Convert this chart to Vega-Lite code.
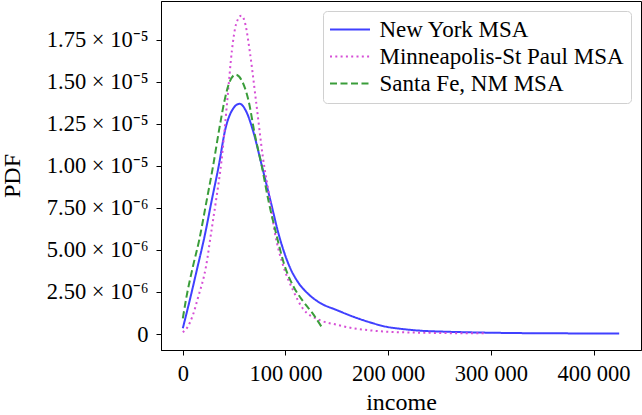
{
  "$schema": "https://vega.github.io/schema/vega-lite/v6.json",
  "width": 480,
  "height": 349,
  "autosize": {"type": "none"},
  "padding": {"left": 161, "top": 1, "right": 1, "bottom": 65},
  "background": "white",
  "config": {
    "view": {"stroke": "#000000", "strokeWidth": 1},
    "font": "Liberation Serif",
    "axis": {
      "grid": false,
      "domainColor": "#000000",
      "tickColor": "#000000",
      "tickSize": 5,
      "labelFont": "Liberation Serif",
      "labelFontSize": 22.5,
      "labelColor": "#000000",
      "titleFont": "Liberation Serif",
      "titleFontSize": 24,
      "titleFontWeight": "normal",
      "titleColor": "#000000"
    }
  },
  "data": {
    "values": [
      {"msa": "New York MSA", "income": 0, "pdf": 0.34e-6},
      {"msa": "New York MSA", "income": 7500, "pdf": 2.2e-6},
      {"msa": "New York MSA", "income": 14000, "pdf": 3.9e-6},
      {"msa": "New York MSA", "income": 21500, "pdf": 5.9e-6},
      {"msa": "New York MSA", "income": 28000, "pdf": 7.9e-6},
      {"msa": "New York MSA", "income": 35000, "pdf": 10.0e-6},
      {"msa": "New York MSA", "income": 41500, "pdf": 12.2e-6},
      {"msa": "New York MSA", "income": 47500, "pdf": 13.25e-6},
      {"msa": "New York MSA", "income": 55300, "pdf": 13.69e-6},
      {"msa": "New York MSA", "income": 62000, "pdf": 13.2e-6},
      {"msa": "New York MSA", "income": 68300, "pdf": 12.1e-6},
      {"msa": "New York MSA", "income": 77000, "pdf": 10.0e-6},
      {"msa": "New York MSA", "income": 85500, "pdf": 7.9e-6},
      {"msa": "New York MSA", "income": 93500, "pdf": 5.9e-6},
      {"msa": "New York MSA", "income": 104000, "pdf": 4.0e-6},
      {"msa": "New York MSA", "income": 112000, "pdf": 3.1e-6},
      {"msa": "New York MSA", "income": 121700, "pdf": 2.41e-6},
      {"msa": "New York MSA", "income": 133400, "pdf": 1.86e-6},
      {"msa": "New York MSA", "income": 150000, "pdf": 1.42e-6},
      {"msa": "New York MSA", "income": 166000, "pdf": 1.03e-6},
      {"msa": "New York MSA", "income": 182000, "pdf": 0.7e-6},
      {"msa": "New York MSA", "income": 198400, "pdf": 0.43e-6},
      {"msa": "New York MSA", "income": 215000, "pdf": 0.29e-6},
      {"msa": "New York MSA", "income": 231000, "pdf": 0.2e-6},
      {"msa": "New York MSA", "income": 255000, "pdf": 0.14e-6},
      {"msa": "New York MSA", "income": 280000, "pdf": 0.1e-6},
      {"msa": "New York MSA", "income": 320000, "pdf": 0.06e-6},
      {"msa": "New York MSA", "income": 370000, "pdf": 0.04e-6},
      {"msa": "New York MSA", "income": 425000, "pdf": 0.03e-6},
      {"msa": "Minneapolis-St Paul MSA", "income": 0, "pdf": 0.1e-6},
      {"msa": "Minneapolis-St Paul MSA", "income": 5000, "pdf": 0.45e-6},
      {"msa": "Minneapolis-St Paul MSA", "income": 9800, "pdf": 1.13e-6},
      {"msa": "Minneapolis-St Paul MSA", "income": 14600, "pdf": 2.12e-6},
      {"msa": "Minneapolis-St Paul MSA", "income": 22800, "pdf": 4.09e-6},
      {"msa": "Minneapolis-St Paul MSA", "income": 27700, "pdf": 6.07e-6},
      {"msa": "Minneapolis-St Paul MSA", "income": 32600, "pdf": 8.05e-6},
      {"msa": "Minneapolis-St Paul MSA", "income": 37500, "pdf": 10.2e-6},
      {"msa": "Minneapolis-St Paul MSA", "income": 43300, "pdf": 13.88e-6},
      {"msa": "Minneapolis-St Paul MSA", "income": 47800, "pdf": 16.85e-6},
      {"msa": "Minneapolis-St Paul MSA", "income": 52000, "pdf": 18.45e-6},
      {"msa": "Minneapolis-St Paul MSA", "income": 57000, "pdf": 18.93e-6},
      {"msa": "Minneapolis-St Paul MSA", "income": 61000, "pdf": 18.4e-6},
      {"msa": "Minneapolis-St Paul MSA", "income": 65100, "pdf": 16.85e-6},
      {"msa": "Minneapolis-St Paul MSA", "income": 71600, "pdf": 13.7e-6},
      {"msa": "Minneapolis-St Paul MSA", "income": 78000, "pdf": 10.5e-6},
      {"msa": "Minneapolis-St Paul MSA", "income": 84600, "pdf": 8.05e-6},
      {"msa": "Minneapolis-St Paul MSA", "income": 89500, "pdf": 6.07e-6},
      {"msa": "Minneapolis-St Paul MSA", "income": 97600, "pdf": 4.09e-6},
      {"msa": "Minneapolis-St Paul MSA", "income": 107300, "pdf": 2.61e-6},
      {"msa": "Minneapolis-St Paul MSA", "income": 117100, "pdf": 1.5e-6},
      {"msa": "Minneapolis-St Paul MSA", "income": 133400, "pdf": 0.83e-6},
      {"msa": "Minneapolis-St Paul MSA", "income": 150000, "pdf": 0.55e-6},
      {"msa": "Minneapolis-St Paul MSA", "income": 166000, "pdf": 0.34e-6},
      {"msa": "Minneapolis-St Paul MSA", "income": 182000, "pdf": 0.22e-6},
      {"msa": "Minneapolis-St Paul MSA", "income": 198400, "pdf": 0.14e-6},
      {"msa": "Minneapolis-St Paul MSA", "income": 240000, "pdf": 0.07e-6},
      {"msa": "Minneapolis-St Paul MSA", "income": 293000, "pdf": 0.04e-6},
      {"msa": "Santa Fe, NM MSA", "income": 0, "pdf": 0.93e-6},
      {"msa": "Santa Fe, NM MSA", "income": 3300, "pdf": 2.12e-6},
      {"msa": "Santa Fe, NM MSA", "income": 9800, "pdf": 4.0e-6},
      {"msa": "Santa Fe, NM MSA", "income": 16000, "pdf": 5.6e-6},
      {"msa": "Santa Fe, NM MSA", "income": 22800, "pdf": 7.8e-6},
      {"msa": "Santa Fe, NM MSA", "income": 29300, "pdf": 9.93e-6},
      {"msa": "Santa Fe, NM MSA", "income": 35800, "pdf": 12.3e-6},
      {"msa": "Santa Fe, NM MSA", "income": 40700, "pdf": 13.9e-6},
      {"msa": "Santa Fe, NM MSA", "income": 45600, "pdf": 15.0e-6},
      {"msa": "Santa Fe, NM MSA", "income": 51400, "pdf": 15.42e-6},
      {"msa": "Santa Fe, NM MSA", "income": 58000, "pdf": 15.0e-6},
      {"msa": "Santa Fe, NM MSA", "income": 64000, "pdf": 13.88e-6},
      {"msa": "Santa Fe, NM MSA", "income": 70000, "pdf": 11.9e-6},
      {"msa": "Santa Fe, NM MSA", "income": 77000, "pdf": 9.95e-6},
      {"msa": "Santa Fe, NM MSA", "income": 83500, "pdf": 7.9e-6},
      {"msa": "Santa Fe, NM MSA", "income": 90500, "pdf": 6.07e-6},
      {"msa": "Santa Fe, NM MSA", "income": 99000, "pdf": 4.09e-6},
      {"msa": "Santa Fe, NM MSA", "income": 108000, "pdf": 2.8e-6},
      {"msa": "Santa Fe, NM MSA", "income": 117100, "pdf": 1.95e-6},
      {"msa": "Santa Fe, NM MSA", "income": 126800, "pdf": 1.2e-6},
      {"msa": "Santa Fe, NM MSA", "income": 136000, "pdf": 0.34e-6}
    ]
  },
  "mark": {"type": "line", "interpolate": "monotone", "strokeWidth": 2, "strokeCap": "butt", "clip": true},
  "encoding": {
    "x": {
      "field": "income",
      "type": "quantitative",
      "title": "income",
      "scale": {"domain": [-21250, 446250], "nice": false, "zero": false},
      "axis": {
        "values": [0, 100000, 200000, 300000, 400000],
        "labelExpr": "datum.value == 0 ? '0' : format(datum.value / 1000, 'd') + ' 000'",
        "labelPadding": 7,
        "titlePadding": 6,
        "labelFlush": false
      }
    },
    "y": {
      "field": "pdf",
      "type": "quantitative",
      "title": "PDF",
      "scale": {"domain": [-9.5e-7, 1.98e-5], "nice": false, "zero": false},
      "axis": {
        "values": [0, 2.5e-6, 5e-6, 7.5e-6, 1e-5, 1.25e-5, 1.5e-5, 1.75e-5],
        "labelExpr": "datum.value == 0 ? '0' : (datum.value >= 9.9e-6 ? format(datum.value * 1e5, '.2f') + ' × 10⁻⁵' : format(datum.value * 1e6, '.2f') + ' × 10⁻⁶')",
        "labelPadding": 8,
        "titlePadding": 22,
        "labelFlush": false
      }
    },
    "color": {
      "field": "msa",
      "type": "nominal",
      "title": null,
      "scale": {
        "domain": ["New York MSA", "Minneapolis-St Paul MSA", "Santa Fe, NM MSA"],
        "range": ["#4040ff", "#d64fd6", "#3a9d3a"]
      },
      "legend": {
        "orient": "none",
        "legendX": 162,
        "legendY": 10,
        "padding": 7,
        "symbolType": "M-4,0H4",
        "symbolSize": 100,
        "symbolStrokeWidth": 2,
        "symbolOffset": 8.5,
        "labelOffset": 18,
        "rowPadding": 3,
        "labelFont": "Liberation Serif",
        "labelFontSize": 23,
        "labelColor": "#000000",
        "labelLimit": 400,
        "strokeColor": "#d0d0d0",
        "cornerRadius": 4,
        "fillColor": "rgba(255,255,255,0.8)"
      }
    },
    "strokeDash": {
      "field": "msa",
      "type": "nominal",
      "title": null,
      "scale": {
        "domain": ["New York MSA", "Minneapolis-St Paul MSA", "Santa Fe, NM MSA"],
        "range": [[1, 0], [2, 3.3], [7, 3.5]]
      }
    }
  }
}
